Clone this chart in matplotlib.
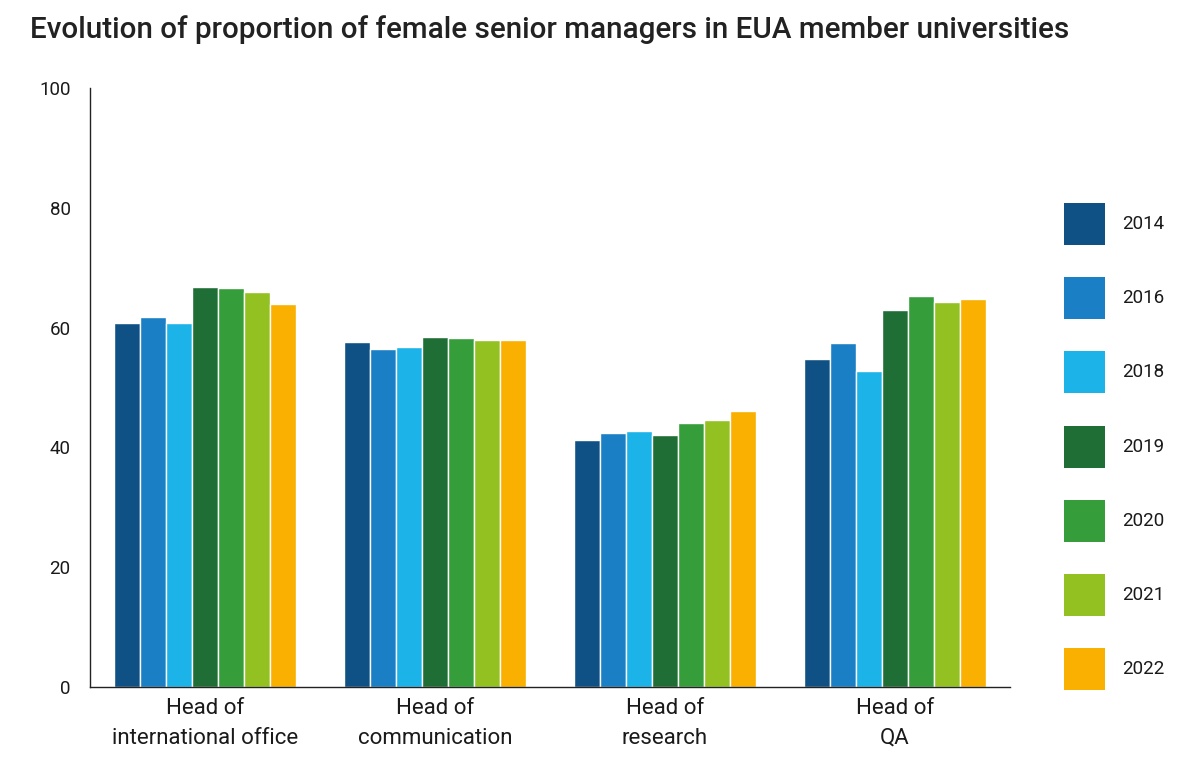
import matplotlib
matplotlib.use("Agg")
import matplotlib.pyplot as plt
from matplotlib.patches import Rectangle
import numpy as np

plt.rcParams['font.family'] = ['Roboto', 'DejaVu Sans']

categories = ["Head of\ninternational office", "Head of\ncommunication", "Head of\nresearch", "Head of\nQA"]
years = ["2014", "2016", "2018", "2019", "2020", "2021", "2022"]
v2014 = [60.7, 57.6, 41.2, 54.7]
v2016 = [61.8, 56.4, 42.4, 57.5]
v2018 = [60.7, 56.8, 42.7, 52.8]
v2019 = [66.8, 58.5, 42.0, 62.9]
v2020 = [66.6, 58.2, 44.1, 65.2]
v2021 = [65.9, 58.0, 44.6, 64.2]
v2022 = [63.9, 57.9, 46.1, 64.7]
series = [v2014, v2016, v2018, v2019, v2020, v2021, v2022]
colors = ["#0f5185", "#1a7fc4", "#1cb3e8", "#1e6e35", "#359e3a", "#94c122", "#f9b000"]

fig = plt.figure(figsize=(12, 7.59), dpi=100)
ax = fig.add_axes([0.075, 0.0949, 0.7667, 0.7891])

n = len(series)
group_w = 0.79
bw = group_w / n
x = np.arange(len(categories))
for i, (vals, c) in enumerate(zip(series, colors)):
    ax.bar(x - group_w / 2 + bw * (i + 0.5), vals, width=bw, color=c,
           edgecolor="white", linewidth=1.0)

ax.set_xlim(-0.5, 3.5)
ax.set_ylim(0, 100)
ax.set_yticks([0, 20, 40, 60, 80, 100])
ax.set_xticks(x)
ax.set_xticklabels(categories, fontsize=16, color="#1a1a1a", linespacing=1.55)
ax.tick_params(axis='both', length=0)
ax.tick_params(axis='y', labelsize=13.5, pad=14, labelcolor="#1a1a1a")
ax.tick_params(axis='x', pad=8)
for s in ["top", "right"]:
    ax.spines[s].set_visible(False)
for s in ["left", "bottom"]:
    ax.spines[s].set_color("#222222")
    ax.spines[s].set_linewidth(1.0)

fig.text(30 / 1200, 1 - 30 / 759, "Evolution of proportion of female senior managers in EUA member universities",
         fontsize=21.3, fontweight="medium", color="#222222", va="center", ha="left")

# legend
W, H = 1200, 759
for i, (yr, c) in enumerate(zip(years, colors)):
    cy = 224 + i * 74.2
    fig.add_artist(Rectangle((1064 / W, 1 - (cy + 21) / H), 41 / W, 42 / H,
                             transform=fig.transFigure, facecolor=c, edgecolor="none"))
    fig.text(1122 / W, 1 - cy / H, yr, fontsize=13.5, color="#1a1a1a", va="center", ha="left")

fig.savefig("out.png", dpi=100)
